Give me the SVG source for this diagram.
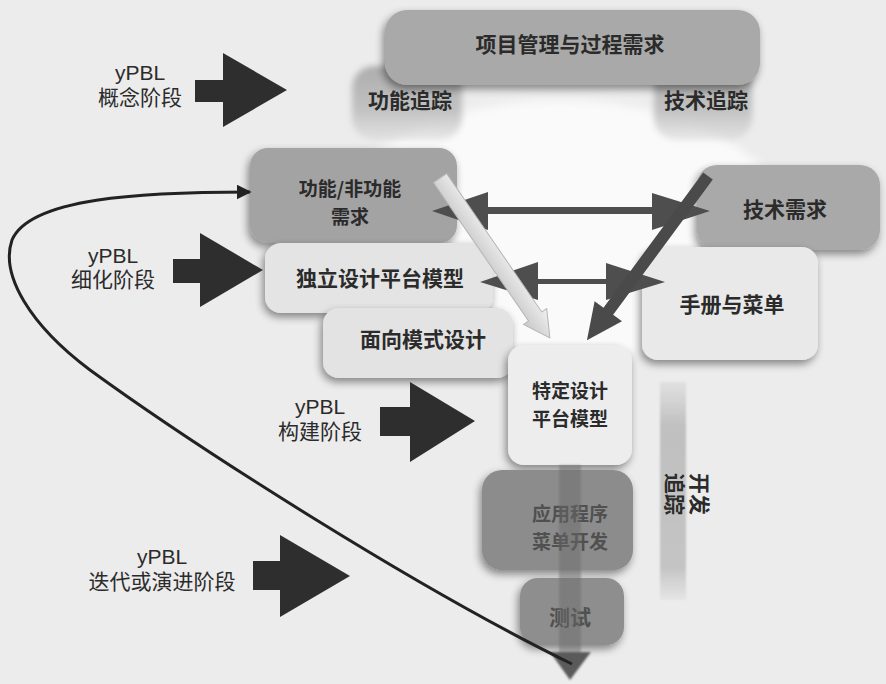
<svg xmlns="http://www.w3.org/2000/svg" width="886" height="684" viewBox="0 0 886 684">
<defs>
<filter id="sh" x="-20%" y="-20%" width="140%" height="150%">
<feGaussianBlur in="SourceAlpha" stdDeviation="4"/>
<feOffset dx="-2" dy="4" result="b"/>
<feComponentTransfer><feFuncA type="linear" slope="0.45"/></feComponentTransfer>
<feMerge><feMergeNode/><feMergeNode in="SourceGraphic"/></feMerge>
</filter>
<filter id="soft" x="-30%" y="-30%" width="160%" height="160%">
<feGaussianBlur stdDeviation="5"/>
</filter>
<filter id="lobeblur" x="-30%" y="-30%" width="160%" height="160%">
<feGaussianBlur stdDeviation="3"/>
</filter>
<filter id="blur1" x="-10%" y="-10%" width="120%" height="120%">
<feGaussianBlur stdDeviation="1"/>
</filter>
<linearGradient id="vbar" x1="0" y1="0" x2="0" y2="1">
<stop offset="0" stop-color="#c4c4c4" stop-opacity="0.3"/>
<stop offset="0.2" stop-color="#c0c0c0"/>
<stop offset="0.85" stop-color="#c4c4c4"/>
<stop offset="1" stop-color="#c8c8c8" stop-opacity="0.2"/>
</linearGradient>
<linearGradient id="lobe" x1="0" y1="0" x2="0" y2="1">
<stop offset="0" stop-color="#acacac"/>
<stop offset="0.6" stop-color="#c2c2c2"/>
<stop offset="1" stop-color="#d4d4d4" stop-opacity="0.5"/>
</linearGradient>
<linearGradient id="lightArrow" x1="0" y1="0" x2="0" y2="1">
<stop offset="0" stop-color="#f0f0f0"/>
<stop offset="1" stop-color="#c8c8c8"/>
</linearGradient>
<marker id="curveHead" viewBox="0 0 10 10" refX="9" refY="5" markerWidth="5" markerHeight="5" orient="auto" markerUnits="strokeWidth">
<path d="M0,0 L10,5 L0,10 Z" fill="#222"/>
</marker>
</defs>
<style>
.lbl{font-family:"Noto Sans CJK SC","Liberation Sans",sans-serif;font-size:21px;font-weight:bold;fill:#2b2b2b;text-anchor:middle}
.two{font-size:19px}
.dim{fill:#505050}
.ph{font-family:"Liberation Sans","Noto Sans CJK SC",sans-serif;font-size:21px;fill:#2b2b2b;text-anchor:middle}
.blk{fill:#2e2e2e}
.dark{fill:#4e4e4e}
</style>
<rect x="0" y="0" width="886" height="684" fill="#ececec"/>
<ellipse cx="560" cy="230" rx="230" ry="130" fill="#fafafa" filter="url(#soft)"/>

<g id="pm">
<rect x="352" y="66" width="110" height="74" rx="22" fill="url(#lobe)" filter="url(#lobeblur)"/>
<rect x="654" y="66" width="98" height="74" rx="22" fill="url(#lobe)" filter="url(#lobeblur)"/>
<rect x="385" y="10" width="375" height="75" rx="22" fill="#a9a9a9" filter="url(#sh)"/>
<text class="lbl" x="570" y="52">项目管理与过程需求</text>
<text class="lbl" x="410" y="108">功能追踪</text>
<text class="lbl" x="706" y="108">技术追踪</text>
</g>

<g id="devtrace">
<rect x="660" y="382" width="26" height="218" fill="url(#vbar)" filter="url(#blur1)"/>
<text class="lbl" transform="translate(692,494) rotate(90)">开发</text>
<text class="lbl" transform="translate(667,494) rotate(90)">追踪</text>
</g>

<g id="funreq">
<rect x="250" y="148" width="207" height="95" rx="18" fill="#a3a3a3" filter="url(#sh)"/>
<text class="lbl two" x="350" y="196">功能/非功能</text>
<text class="lbl two" x="350" y="224">需求</text>
</g>

<g id="pim">
<rect x="265" y="243" width="228" height="70" rx="16" fill="#e4e4e4" filter="url(#sh)"/>
<text class="lbl" x="380" y="286">独立设计平台模型</text>
</g>

<g id="pattern">
<rect x="323" y="308" width="190" height="70" rx="16" fill="#e3e3e3" filter="url(#sh)"/>
<text class="lbl" x="423" y="347">面向模式设计</text>
</g>

<g id="techreq">
<rect x="697" y="165" width="183" height="85" rx="20" fill="#a9a9a9" filter="url(#sh)"/>
<text class="lbl" x="785" y="217">技术需求</text>
</g>

<g id="manual">
<rect x="642" y="247" width="176" height="113" rx="16" fill="#e9e9e9" filter="url(#sh)"/>
<text class="lbl" x="732" y="312">手册与菜单</text>
</g>

<g id="psm">
<rect x="508" y="345" width="124" height="120" rx="16" fill="#ededed" filter="url(#sh)"/>
<text class="lbl two" x="570" y="398">特定设计</text>
<text class="lbl two" x="570" y="426">平台模型</text>
</g>

<g id="appdev">
<rect x="482" y="470" width="151" height="100" rx="20" fill="#8c8c8c" filter="url(#sh)"/>
<text class="lbl two dim" x="570" y="521">应用程序</text>
<text class="lbl two dim" x="570" y="549">菜单开发</text>
</g>

<g id="test">
<rect x="520" y="578" width="104" height="67" rx="18" fill="#8e8e8e" filter="url(#sh)"/>
<text class="lbl dim" x="570" y="625">测试</text>
</g>

<g id="connectors">
<rect x="559" y="465" width="22" height="190" fill="#6a6a6a" opacity="0.45" filter="url(#blur1)"/>
<polygon points="550,652 591,652 570,680" fill="#5a5a5a" filter="url(#blur1)"/>
<g class="dark">
<rect x="486" y="207" width="168" height="7"/>
<polygon points="432,211 488,192 488,230"/>
<polygon points="710,211 652,193 652,230"/>
<rect x="536" y="279" width="72" height="5"/>
<polygon points="480,282 538,262 538,300"/>
<polygon points="665,282 606,263 606,300"/>
</g>
<g transform="translate(440,178) rotate(55.5)">
<polygon points="0,-8 168,-8 168,-14 194,0 168,14 168,8 0,8" fill="url(#lightArrow)" stroke="#b5b5b5" stroke-width="1"/>
</g>
<g transform="translate(708,176) rotate(126.4)">
<polygon points="0,-6 168,-6 168,-17 204,0 168,17 168,6 0,6" fill="#4a4a4a"/>
</g>
<polygon class="blk" points="195,80 223,80 223,53 287,90 223,127 223,102 195,102"/>
<polygon class="blk" points="173,259 200,259 200,233 263,270 200,307 200,283 173,283"/>
<polygon class="blk" points="380,407 410,407 410,382 475,421 410,462 410,436 380,436"/>
<polygon class="blk" points="253,561 280,561 280,535 350,576 280,617 280,590 253,590"/>
<path d="M572,664 C420,590 200,450 90,370 C30,325 0,275 12,240 C30,198 140,192 250,192" fill="none" stroke="#222" stroke-width="3" marker-end="url(#curveHead)"/>
</g>

<g id="phase-labels">
<text class="ph" x="140" y="80">yPBL</text>
<text class="ph" x="140" y="105">概念阶段</text>
<text class="ph" x="113" y="263">yPBL</text>
<text class="ph" x="113" y="287">细化阶段</text>
<text class="ph" x="320" y="414">yPBL</text>
<text class="ph" x="320" y="439">构建阶段</text>
<text class="ph" x="162" y="564">yPBL</text>
<text class="ph" x="162" y="589">迭代或演进阶段</text>
</g>
</svg>
